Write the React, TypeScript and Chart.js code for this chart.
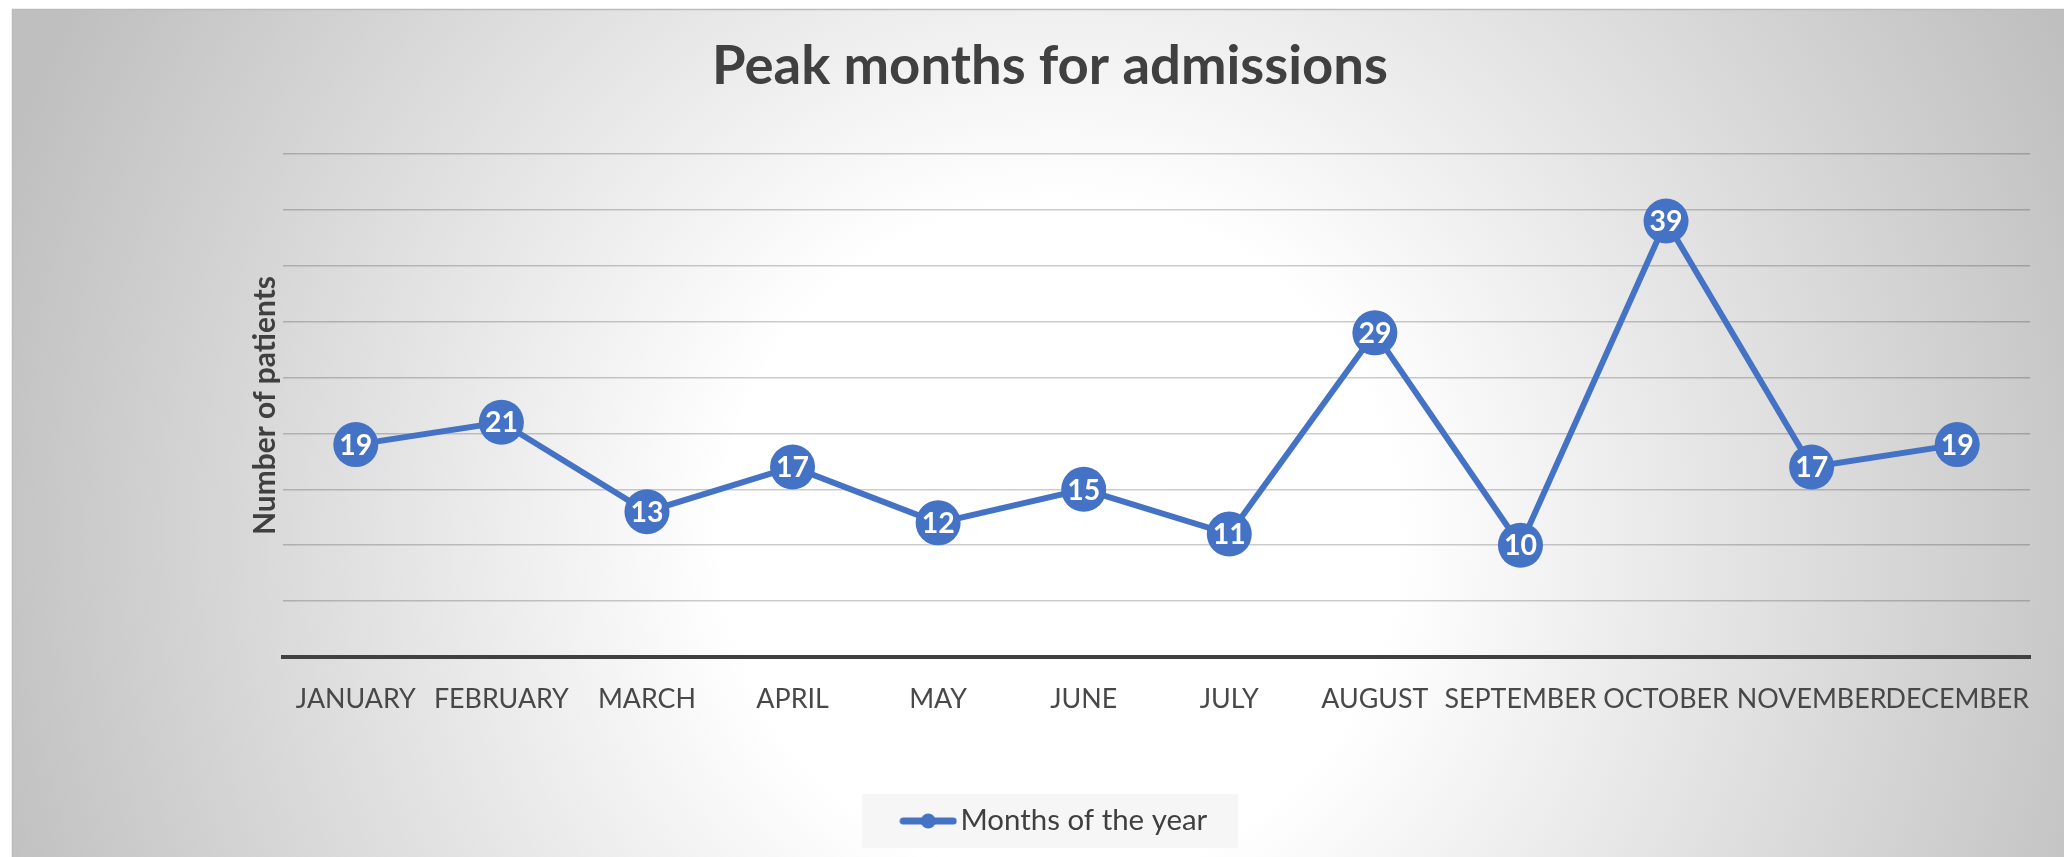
import React, { useEffect, useRef } from "react";
import { Chart, registerables } from "chart.js";

Chart.register(...registerables);

// ---------- data ----------
const categories = [
  "JANUARY", "FEBRUARY", "MARCH", "APRIL", "MAY", "JUNE",
  "JULY", "AUGUST", "SEPTEMBER", "OCTOBER", "NOVEMBER", "DECEMBER",
];
const patients = [19, 21, 13, 17, 12, 15, 11, 29, 10, 39, 17, 19];
const seriesName = "Months of the year";
const chartTitle = "Peak months for admissions";
const yAxisTitle = "Number of patients";
const yMin = 0;
const yMax = 45;
const yStep = 5;

// ---------- style ----------
const W = 2064;
const H = 857;
const FAMILY = "Lato, 'Open Sans', sans-serif";
const BLUE = "#4472C4";
const TEXT_DARK = "#404040";

function fitSize(text: string, weight: string, target: number): number {
  const c = document.createElement("canvas").getContext("2d") as CanvasRenderingContext2D;
  c.font = `${weight} 100px ${FAMILY}`;
  return (100 * target) / c.measureText(text).width;
}

function makeLegendSymbol(): HTMLCanvasElement {
  const c = document.createElement("canvas");
  c.width = 58;
  c.height = 16;
  const g = c.getContext("2d") as CanvasRenderingContext2D;
  g.strokeStyle = BLUE;
  g.lineWidth = 7;
  g.lineCap = "round";
  g.beginPath();
  g.moveTo(4, 8);
  g.lineTo(54, 8);
  g.stroke();
  g.fillStyle = BLUE;
  g.beginPath();
  g.arc(29, 8, 7.5, 0, Math.PI * 2);
  g.fill();
  return c;
}

export default function App() {
  const ref = useRef<HTMLCanvasElement | null>(null);

  useEffect(() => {
    if (!ref.current) return;
    document.body.style.margin = "0";

    const titleSize = fitSize(chartTitle, "bold", 676);
    const xSize = fitSize("JANUARY", "normal", 120);
    const yTitleSize = fitSize(yAxisTitle, "bold", 259);
    const legendSize = fitSize(seriesName, "normal", 247);
    const labelSize = fitSize("19", "bold", 33);

    const plotLeft = 283;
    const plotTop = 154;
    const plotBottom = 657;
    const padLeft = 36;

    const titleLH = titleSize * 1.2;
    const titlePadTop = 66 - titleLH / 2;
    const titlePadBottom = plotTop - titlePadTop - titleLH;

    const yTitleLH = yTitleSize * 1.2;
    const yTitlePad = 265 - padLeft - yTitleLH / 2;

    const legendPad = 10;
    const legendBoxW = 35;
    const legendShift = 9;
    const padBottom = 857 - 821 - legendPad - legendSize / 2;
    const legendTop = H - padBottom - (legendSize + legendPad + 10);
    const xHeight = legendTop - plotBottom;

    const legendSymbol = makeLegendSymbol();

    const legendShiftPlugin = {
      id: "legendShift",
      afterUpdate(chart: any) {
        const lg = chart.legend;
        if (!lg) return;
        lg.left += legendShift;
        lg.right += legendShift;
        (lg.legendHitBoxes || []).forEach((hb: any) => {
          hb.left += legendShift;
        });
      },
    };

    const backgroundPlugin = {
      id: "bgPlugin",
      beforeDraw(chart: any) {
        const ctx = chart.ctx as CanvasRenderingContext2D;
        ctx.save();
        ctx.fillStyle = "#ffffff";
        ctx.fillRect(0, 0, W, H);
        const cx = 1060, cy = 540, R = 1120;
        const grad = ctx.createRadialGradient(cx, cy, 0, cx, cy, R);
        grad.addColorStop(0, "#ffffff");
        grad.addColorStop(0.3, "#ffffff");
        grad.addColorStop(1, "#bfbfbf");
        ctx.fillStyle = grad;
        ctx.fillRect(12, 9, W - 12, H - 9);
        ctx.strokeStyle = "#bcbcbc";
        ctx.lineWidth = 1.5;
        ctx.beginPath();
        ctx.moveTo(12, 9.5);
        ctx.lineTo(W, 9.5);
        ctx.moveTo(12.5, 9);
        ctx.lineTo(12.5, H);
        ctx.stroke();
        const hb = chart.legend && chart.legend.legendHitBoxes && chart.legend.legendHitBoxes[0];
        if (hb) {
          const cyL = hb.top + hb.height / 2;
          const x0 = hb.left + legendBoxW / 2 - 29 - 37;
          const x1 = hb.left + hb.width + 31;
          ctx.fillStyle = "#f6f6f6";
          ctx.fillRect(x0, cyL - 27, x1 - x0, 54);
        }
        ctx.restore();
      },
    };

    const dataLabelPlugin = {
      id: "dataLabels",
      afterDatasetsDraw(chart: any) {
        const ctx = chart.ctx as CanvasRenderingContext2D;
        const meta = chart.getDatasetMeta(0);
        const values = chart.data.datasets[0].data as number[];
        ctx.save();
        ctx.fillStyle = "#ffffff";
        ctx.font = `bold ${labelSize}px ${FAMILY}`;
        ctx.textAlign = "center";
        ctx.textBaseline = "middle";
        meta.data.forEach((pt: any, i: number) => {
          ctx.fillText(String(values[i]), pt.x, pt.y + 1);
        });
        ctx.restore();
      },
    };

    const chart = new Chart(ref.current, {
      type: "line",
      data: {
        labels: categories,
        datasets: [
          {
            label: seriesName,
            data: patients,
            borderColor: BLUE,
            backgroundColor: BLUE,
            borderWidth: 6,
            tension: 0,
            pointRadius: 22.5,
            pointHoverRadius: 22.5,
            pointBackgroundColor: BLUE,
            pointBorderColor: BLUE,
            pointBorderWidth: 0,
            fill: false,
          },
        ],
      },
      options: {
        responsive: false,
        animation: false,
        events: [],
        layout: { padding: { left: padLeft, right: 0, top: 0, bottom: padBottom } },
        scales: {
          x: {
            offset: true,
            grid: { display: false, drawTicks: false },
            border: { display: true, color: "#404040", width: 4 },
            ticks: {
              autoSkip: false,
              maxRotation: 0,
              minRotation: 0,
              color: "#484848",
              font: { family: FAMILY, size: xSize },
              padding: 26,
            },
            afterFit: (s: any) => {
              s.height = xHeight;
            },
          },
          y: {
            min: yMin,
            max: yMax,
            ticks: { stepSize: yStep, display: false },
            grid: { color: "rgba(0,0,0,0.2)", lineWidth: 1.5, drawTicks: false },
            border: { display: false },
            title: {
              display: true,
              text: yAxisTitle,
              color: TEXT_DARK,
              font: { family: FAMILY, size: yTitleSize, weight: "bold", lineHeight: 1.2 },
              padding: { top: yTitlePad, bottom: 0 },
            },
            afterFit: (s: any) => {
              s.width = plotLeft - padLeft;
            },
          },
          spacer: {
            type: "linear",
            position: "right",
            display: true,
            grid: { display: false, drawTicks: false },
            border: { display: false },
            ticks: { display: false },
            afterFit: (s: any) => {
              s.width = W - 2030;
            },
          },
        },
        plugins: {
          title: {
            display: true,
            text: chartTitle,
            color: TEXT_DARK,
            font: { family: FAMILY, size: titleSize, weight: "bold", lineHeight: 1.2 },
            padding: { top: titlePadTop, bottom: titlePadBottom },
          },
          legend: {
            display: true,
            position: "bottom",
            labels: {
              usePointStyle: true,
              pointStyleWidth: legendBoxW,
              padding: legendPad,
              color: TEXT_DARK,
              font: { family: FAMILY, size: legendSize },
              generateLabels: (c: any) =>
                (Chart.defaults.plugins.legend.labels.generateLabels as any)(c).map((l: any) => ({
                  ...l,
                  pointStyle: legendSymbol,
                })),
            },
          },
          tooltip: { enabled: false },
        },
      } as any,
      plugins: [legendShiftPlugin, backgroundPlugin, dataLabelPlugin],
    });

    return () => chart.destroy();
  }, []);

  return (
    <div style={{ position: "fixed", left: 0, top: 0, width: W, height: H }}>
      <canvas ref={ref} width={W} height={H} style={{ display: "block", width: W, height: H }} />
    </div>
  );
}
